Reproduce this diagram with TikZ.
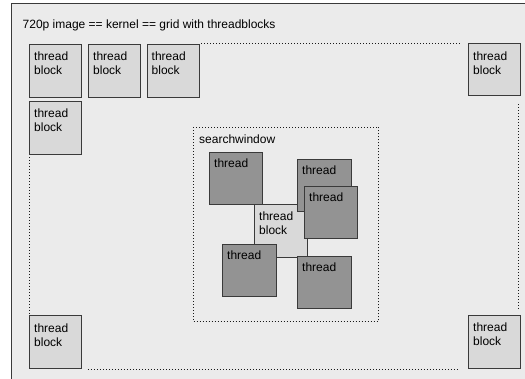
\documentclass[tikz,border=0pt]{standalone}
\usepackage{fontspec}
\setmainfont{Liberation Sans}
\definecolor{gridbg}{HTML}{EBEBEB}
\definecolor{blockfill}{HTML}{D9D9D9}
\definecolor{threadfill}{HTML}{939393}
\definecolor{edgegray}{HTML}{3A3A3A}
\tikzset{
    blockbox/.style={draw=edgegray, fill=blockfill, line width=0.8pt, minimum width=52pt, minimum height=53pt, anchor=north west, inner sep=0pt},
    threadbox/.style={draw=edgegray, fill=threadfill, line width=0.8pt, minimum width=53pt, minimum height=52pt, anchor=north west, inner sep=0pt},
    boxtext/.style={anchor=north west, align=left, inner sep=0pt, font=\fontsize{12}{14}\selectfont, xshift=5pt, yshift=-8pt},
    threadtext/.style={boxtext, yshift=1.5pt},
    dots/.style={line width=1pt, dash pattern=on 1pt off 2pt, black!90},
}
\begin{document}
\begin{tikzpicture}[x=1pt, y=-1pt]
    \clip (0,0) rectangle (525,379);
    \fill[white] (0,0) rectangle (525,379);
    \draw[line width=1pt, edgegray, fill=gridbg] (11.5,4) rectangle (540,395);
    \node[boxtext, xshift=0.5pt, yshift=0pt] (title) at (17,11.5) {720p image == kernel == grid with threadblocks};

    % grid of threadblocks
    \node[blockbox, label={[boxtext]north west:{thread\\block}}] (tbA) at (29,44) {};
    \node[blockbox, label={[boxtext]north west:{thread\\block}}] (tbB) at (88,44) {};
    \node[blockbox, label={[boxtext]north west:{thread\\block}}] (tbC) at (146.5,44) {};
    \node[blockbox, label={[boxtext]north west:{thread\\block}}] (tbD) at (29,101) {};
    \node[blockbox, minimum height=52pt, label={[boxtext]north west:{thread\\block}}] (tbTR) at (468,43.5) {};
    \node[blockbox, label={[boxtext]north west:{thread\\block}}] (tbBL) at (29,315.5) {};
    \node[blockbox, label={[boxtext]north west:{thread\\block}}] (tbBR) at (468,315) {};

    \draw[dots, shorten <=2pt, shorten >=7pt] (tbC.north east) -- (tbC.north east -| tbTR.west);
    \draw[dots] ([xshift=-2pt, yshift=-8pt]tbTR.south east) -- ([xshift=-2pt, yshift=4pt]tbBR.north east);
    \draw[dots, shorten <=2pt, shorten >=2pt] (tbD.south west) -- (tbBL.north west);
    \draw[dots, shorten <=6pt, shorten >=9pt] (tbBL.south east) -- (tbBL.south east -| tbBR.west);

    % searchwindow round one threadblock
    \node[draw, dots, minimum width=185pt, minimum height=194pt, anchor=north west, inner sep=0pt,
          label={[boxtext, black, xshift=1pt, yshift=0pt]north west:searchwindow}] (win) at (193,127) {};
    \node[blockbox, minimum width=53pt, label={[boxtext]north west:{thread\\block}}] (tbS) at (254,204) {};
    \node[threadbox, label={[threadtext]north west:thread}] (thA) at (209,152) {};
    \node[threadbox, minimum width=54pt, label={[threadtext]north west:thread}] (thB) at (297,159) {};
    \node[threadbox, label={[threadtext]north west:thread}] (thC) at (304,186) {};
    \node[threadbox, minimum width=54pt, label={[threadtext]north west:thread}] (thD) at (222,244.5) {};
    \node[threadbox, minimum width=54pt, label={[threadtext]north west:thread}] (thE) at (297,256) {};
\end{tikzpicture}
\end{document}
